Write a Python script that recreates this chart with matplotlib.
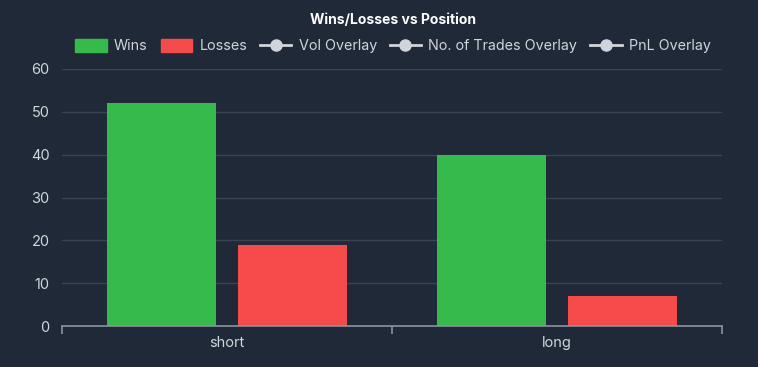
import matplotlib
matplotlib.use("Agg")
import matplotlib.pyplot as plt
import numpy as np
from matplotlib.patches import Patch
from matplotlib.lines import Line2D

plt.rcParams['font.family'] = ['Inter', 'DejaVu Sans']

categories = ["short", "long"]
wins = [52, 40]
losses = [19, 7]
overlay_labels = ["Vol Overlay", "No. of Trades Overlay", "PnL Overlay"]
title = "Wins/Losses vs Position"

BG = "#1f2937"
GRID = "#3b4452"
TXT = "#d1d5db"
GREEN = "#35ba4b"
RED = "#f74b4b"
AXIS = "#8b93a0"

fig = plt.figure(figsize=(7.58, 3.67), dpi=100, facecolor=BG)
ax = fig.add_axes([62/758, 1-326/367, 660/758, (326-69)/367], facecolor=BG)

x = np.arange(len(categories))
bw = 0.33
off = 0.198
ax.bar(x - off, wins, bw, color=GREEN, label="Wins", zorder=3)
ax.bar(x + off, losses, bw, color=RED, label="Losses", zorder=3)

ax.set_xlim(-0.5, len(categories) - 0.5)
ax.set_ylim(0, 60)
ax.set_yticks(np.arange(0, 61, 10))
ax.set_xticks(x)
ax.set_xticklabels(categories)
ax.set_xticks(np.arange(-0.5, len(categories), 1), minor=True)
ax.tick_params(axis='x', which='major', length=0, pad=7, colors=TXT, labelsize=10.5)
ax.tick_params(axis='x', which='minor', length=6, width=1.2, color=AXIS, direction='out')
ax.tick_params(axis='y', length=0, pad=9, colors=TXT, labelsize=10.5)
ax.grid(axis='y', color=GRID, linewidth=1, zorder=0)
for s in ['top', 'right', 'left']:
    ax.spines[s].set_visible(False)
ax.spines['bottom'].set_color(AXIS)
ax.spines['bottom'].set_linewidth(1.2)
ax.spines['bottom'].set_zorder(4)

fig.text(393/758, 1-20/367, title, ha='center', va='center', color='white',
         fontsize=10, fontweight='bold')

handles = [Patch(facecolor=GREEN, edgecolor=GREEN, label="Wins"),
           Patch(facecolor=RED, edgecolor=RED, label="Losses")]
for lab in overlay_labels:
    handles.append(Line2D([0], [0], color=TXT, marker='o', markersize=8,
                          linewidth=2, markerfacecolor=TXT, label=lab))
leg = fig.legend(handles=handles, loc='center', bbox_to_anchor=(393/758, 1-46/367),
                 ncol=5, frameon=False, fontsize=10.3, labelcolor=TXT,
                 handlelength=2.2, handleheight=1.0, handletextpad=0.5,
                 columnspacing=0.9)

fig.savefig("out.png", dpi=100, facecolor=BG)
